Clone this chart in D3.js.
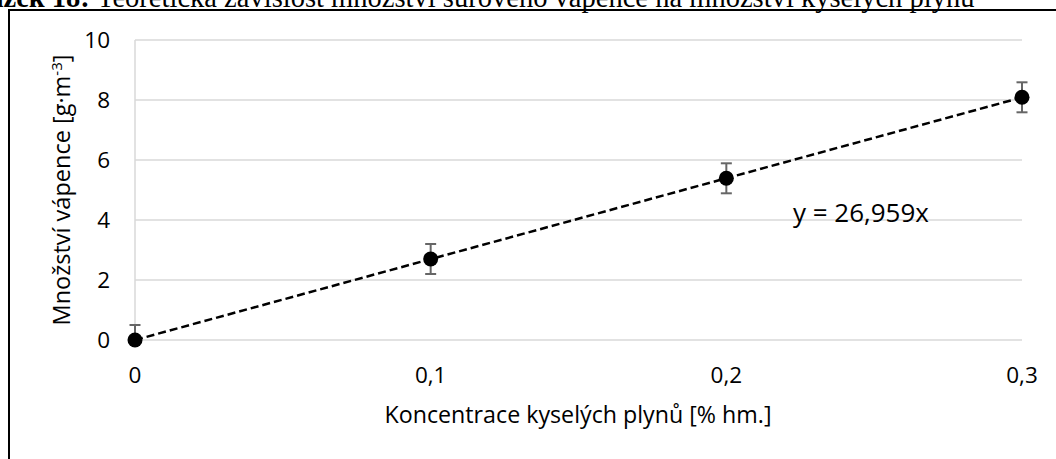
<!DOCTYPE html>
<html>
<head>
<meta charset="utf-8">
<script src="https://cdn.jsdelivr.net/npm/d3@7"></script>
<style>
  body { margin: 0; background: #fff; }
  svg { display: block; }
</style>
</head>
<body>
<div id="chart"></div>
<script>
// Data
var concentrations = [0, 0.1, 0.2, 0.3];
var limestone = [0, 2.70, 5.39, 8.09];
var errorAmount = [0.5, 0.5, 0.5, 0.5];
var slope = 26.959;
var xTicks = [0, 0.1, 0.2, 0.3];
var yTicks = [0, 2, 4, 6, 8, 10];

var width = 1056;
var height = 459;

var svg = d3.select("#chart").append("svg")
    .attr("width", width)
    .attr("height", height);

// Resize a text so it spans the length seen in the picture
function fitText(sel, target, start) {
    sel.style("font-size", start + "px");
    var len = sel.node().getComputedTextLength();
    sel.style("font-size", (start * target / len) + "px");
}

// Caption above the frame (cut off at the top in the picture)
var caption = svg.append("text")
    .attr("y", 7)
    .style("font-family", "'Liberation Serif', 'Times New Roman', serif")
    .style("fill", "black");
var capBold = caption.append("tspan").style("font-weight", "bold").text("Obrázek 18: ");
var capRest = caption.append("tspan")
    .text("Teoretická závislost množství surového vápence na množství kyselých plynů");
caption.style("font-size", "20px");
var restLen = capRest.node().getComputedTextLength();
caption.style("font-size", (20 * 878 / restLen) + "px");
var boldLen = capBold.node().getComputedTextLength();
caption.attr("x", 97 - boldLen);

// Frame
svg.append("path")
    .attr("d", "M9," + height + "V10H" + width)
    .attr("fill", "none")
    .attr("stroke", "black")
    .attr("stroke-width", 2);

// Scales
var x = d3.scaleLinear().domain([0, 0.3]).range([135, 1022]);
var y = d3.scaleLinear().domain([0, 10]).range([340, 40]);

var fmt = function (d) { return String(d).replace(".", ","); };
var font = "'Open Sans', 'Noto Sans', sans-serif";

// Horizontal gridlines
svg.append("g")
    .selectAll("line")
    .data(yTicks)
    .enter().append("line")
    .attr("x1", x(0))
    .attr("x2", x(0.3))
    .attr("y1", function (d) { return y(d); })
    .attr("y2", function (d) { return y(d); })
    .attr("stroke", "#d9d9d9")
    .attr("stroke-width", 1.5);

// Vertical axis line
svg.append("line")
    .attr("x1", x(0)).attr("x2", x(0))
    .attr("y1", y(0)).attr("y2", y(10))
    .attr("stroke", "#d9d9d9")
    .attr("stroke-width", 1.5);

// Y tick labels
svg.append("g")
    .selectAll("text")
    .data(yTicks)
    .enter().append("text")
    .attr("x", 110)
    .attr("y", function (d) { return y(d); })
    .attr("dy", "0.36em")
    .attr("text-anchor", "end")
    .style("font-family", font)
    .style("font-size", "22.5px")
    .style("fill", "#000")
    .text(fmt);

// X tick labels
svg.append("g")
    .selectAll("text")
    .data(xTicks)
    .enter().append("text")
    .attr("x", function (d) { return x(d); })
    .attr("y", 383)
    .attr("text-anchor", "middle")
    .style("font-family", font)
    .style("font-size", "22.5px")
    .style("fill", "#000")
    .text(fmt);

// Axis titles
var xTitle = svg.append("text")
    .attr("x", 578)
    .attr("y", 423)
    .attr("text-anchor", "middle")
    .style("font-family", font)
    .text("Koncentrace kyselých plynů [% hm.]");
fitText(xTitle, 387, 20);

var yTitle = svg.append("text")
    .attr("transform", "translate(70,190) rotate(-90)")
    .attr("text-anchor", "middle")
    .style("font-family", font)
    .style("font-size", "23.5px");
yTitle.append("tspan").text("Množství vápence [g·m");
yTitle.append("tspan").attr("dy", -8).style("font-size", "15px").text("-3");
yTitle.append("tspan").attr("dy", 8).text("]");

// Trendline y = 26,959x
svg.append("line")
    .attr("x1", x(0))
    .attr("y1", y(0))
    .attr("x2", x(0.3))
    .attr("y2", y(slope * 0.3))
    .attr("stroke", "black")
    .attr("stroke-width", 2.5)
    .attr("stroke-dasharray", "8,4");

var eq = svg.append("text")
    .attr("x", 793)
    .attr("y", 222)
    .style("font-family", font)
    .text("y = 26,959x");
fitText(eq, 136, 20);

// Error bars (clipped to the axis minimum like in the picture)
var points = concentrations.map(function (c, i) {
    return { x: c, y: limestone[i], err: errorAmount[i] };
});

var bars = svg.append("g")
    .selectAll("g")
    .data(points)
    .enter().append("g")
    .attr("stroke", "#666")
    .attr("stroke-width", 2);

bars.append("line")
    .attr("x1", function (d) { return x(d.x); })
    .attr("x2", function (d) { return x(d.x); })
    .attr("y1", function (d) { return y(Math.max(0, d.y - d.err)); })
    .attr("y2", function (d) { return y(d.y + d.err); });

bars.append("line")
    .attr("x1", function (d) { return x(d.x) - 5.5; })
    .attr("x2", function (d) { return x(d.x) + 5.5; })
    .attr("y1", function (d) { return y(d.y + d.err); })
    .attr("y2", function (d) { return y(d.y + d.err); });

bars.filter(function (d) { return d.y - d.err >= 0; })
    .append("line")
    .attr("x1", function (d) { return x(d.x) - 5.5; })
    .attr("x2", function (d) { return x(d.x) + 5.5; })
    .attr("y1", function (d) { return y(d.y - d.err); })
    .attr("y2", function (d) { return y(d.y - d.err); });

// Points
svg.append("g")
    .selectAll("circle")
    .data(points)
    .enter().append("circle")
    .attr("cx", function (d) { return x(d.x); })
    .attr("cy", function (d) { return y(d.y); })
    .attr("r", 7.5)
    .attr("fill", "black");
</script>
</body>
</html>
